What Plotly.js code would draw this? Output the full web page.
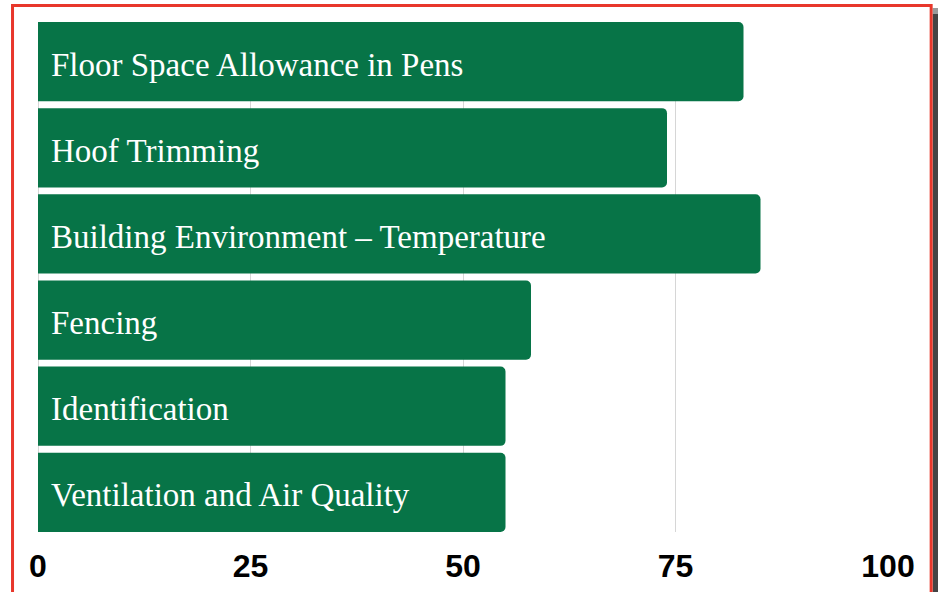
<!DOCTYPE html>
<html>
<head>
<meta charset="utf-8">
<script src="https://cdn.plot.ly/plotly-3.0.1.min.js"></script>
<style>
html,body{margin:0;padding:0;background:#fff;}
#chart{width:938px;height:592px;}
</style>
</head>
<body>
<div id="chart"></div>
<script>
const categories = [
  "Floor Space Allowance in Pens",
  "Hoof Trimming",
  "Building Environment – Temperature",
  "Fencing",
  "Identification",
  "Ventilation and Air Quality"
];
const values = [83, 74, 85, 58, 55, 55];
const tickValues = [0, 25, 50, 75, 100];
const tickLabels = ["0", "25", "50", "75", "100"];

const W = 938, H = 592;
const M = {l: 37.5, r: 49.7, t: 22, b: 60};
const pw = W - M.l - M.r, ph = H - M.t - M.b;
const px = x => (x - M.l) / pw;
const py = y => (H - M.b - y) / ph;

const bargap = 0.08;

const trace = {
  type: 'bar',
  orientation: 'h',
  y: categories,
  x: values,
  marker: {color: '#077447', cornerradius: 5, line: {width: 0}},
  hoverinfo: 'none'
};

const annotations = categories.map(c => ({
  x: 0, y: c, xref: 'x', yref: 'y',
  text: c, showarrow: false,
  xanchor: 'left', yanchor: 'middle',
  xshift: 11, yshift: -3,
  font: {family: 'Liberation Serif, serif', size: 33, color: '#ffffff'}
}));

const layout = {
  width: W, height: H,
  margin: M,
  paper_bgcolor: '#ffffff',
  plot_bgcolor: '#ffffff',
  bargap: bargap,
  showlegend: false,
  xaxis: {
    range: [0, 100],
    tickvals: tickValues,
    ticktext: tickLabels,
    showgrid: true,
    gridcolor: '#d6d6d6',
    gridwidth: 1,
    zeroline: true,
    zerolinecolor: '#d6d6d6',
    zerolinewidth: 1,
    showline: false,
    ticks: '',
    ticklabelstandoff: 12,
    tickfont: {family: 'Liberation Sans, Arial, sans-serif', size: 32, color: '#000000', weight: 'bold'},
    fixedrange: true
  },
  yaxis: {
    type: 'category',
    categoryorder: 'array',
    categoryarray: categories,
    range: [5.5 - bargap / 2, -0.5 + bargap / 2],
    showticklabels: false,
    showgrid: false,
    zeroline: false,
    ticks: '',
    fixedrange: true
  },
  annotations: annotations,
  shapes: [
    {type: 'rect', xref: 'paper', yref: 'paper',
     x0: px(933), x1: px(938.5), y0: py(600), y1: py(14),
     fillcolor: '#444444', line: {width: 0}, layer: 'above'},
    {type: 'rect', xref: 'paper', yref: 'paper',
     x0: px(933), x1: px(938.5), y0: py(14), y1: py(8),
     fillcolor: '#9a9a9a', line: {width: 0}, layer: 'above'},
    {type: 'rect', xref: 'paper', yref: 'paper',
     x0: px(12), x1: px(931.5), y0: py(600), y1: py(5.5),
     fillcolor: 'rgba(0,0,0,0)', line: {color: '#e8372b', width: 3}, layer: 'above'}
  ]
};

Plotly.newPlot('chart', [trace], layout, {displayModeBar: false, staticPlot: true});
</script>
</body>
</html>
